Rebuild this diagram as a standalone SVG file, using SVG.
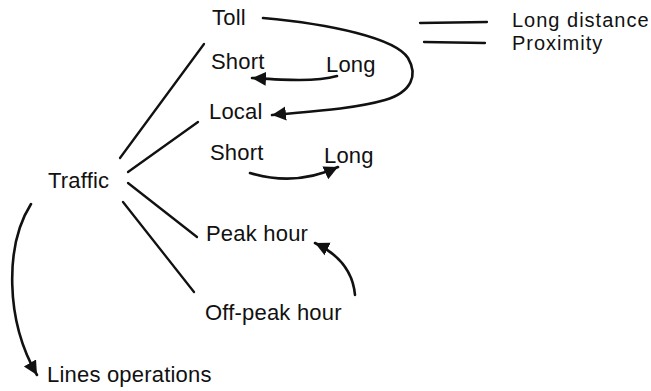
<svg xmlns="http://www.w3.org/2000/svg" width="651" height="391" viewBox="0 0 651 391">
<style>
text{font-family:"Liberation Sans",Arial,sans-serif;font-size:22px;fill:#111;letter-spacing:0.2px}
text.sm{font-size:20px;letter-spacing:1px}
.ln{stroke:#111;stroke-width:2.3;fill:none;stroke-linecap:round}
.ar{stroke:#111;stroke-width:2.6;fill:none;stroke-linecap:round;marker-end:url(#ah)}
</style>
<defs>
<marker id="ah" markerUnits="userSpaceOnUse" markerWidth="16" markerHeight="16" refX="14" refY="7" orient="auto" viewBox="0 0 16 14">
<path d="M0,0 L14,7 L0,14 z" fill="#111"/>
</marker>
</defs>
<rect width="651" height="391" fill="#fff"/>
<g id="connectors">
<line class="ln" x1="120" y1="158" x2="204" y2="44"/>
<line class="ln" x1="128" y1="172" x2="198" y2="122"/>
<line class="ln" x1="128" y1="183" x2="197" y2="237"/>
<line class="ln" x1="123" y1="202" x2="194" y2="292"/>
<line class="ln" x1="420" y1="23" x2="487" y2="22"/>
<line class="ln" x1="424" y1="42" x2="485" y2="43"/>
<path class="ar" d="M263,18 C330,24 395,38 408,58 C418,75 412,92 385,100 C350,110 300,112 272,115"/>
<path class="ar" d="M337,76 C315,82 285,80 252,78"/>
<path class="ar" d="M250,173 C280,182 310,180 338,167"/>
<path class="ar" d="M355,295 C353,272 340,255 315,243"/>
<path class="ar" d="M31,204 C5,245 5,320 37,375"/>
</g>
<g id="toll"><text x="212" y="25">Toll</text></g>
<g id="short1"><text x="211" y="69">Short</text></g>
<g id="long1"><text x="326" y="72">Long</text></g>
<g id="local"><text x="209" y="119">Local</text></g>
<g id="short2"><text x="210" y="160">Short</text></g>
<g id="long2"><text x="324" y="163">Long</text></g>
<g id="traffic"><text x="48" y="188">Traffic</text></g>
<g id="peak"><text x="206" y="241">Peak hour</text></g>
<g id="offpeak"><text x="205" y="320">Off-peak hour</text></g>
<g id="lines-ops"><text x="47" y="382">Lines operations</text></g>
<g id="long-distance"><text class="sm" x="512" y="27">Long distance</text></g>
<g id="proximity"><text class="sm" x="512" y="50">Proximity</text></g>
</svg>
